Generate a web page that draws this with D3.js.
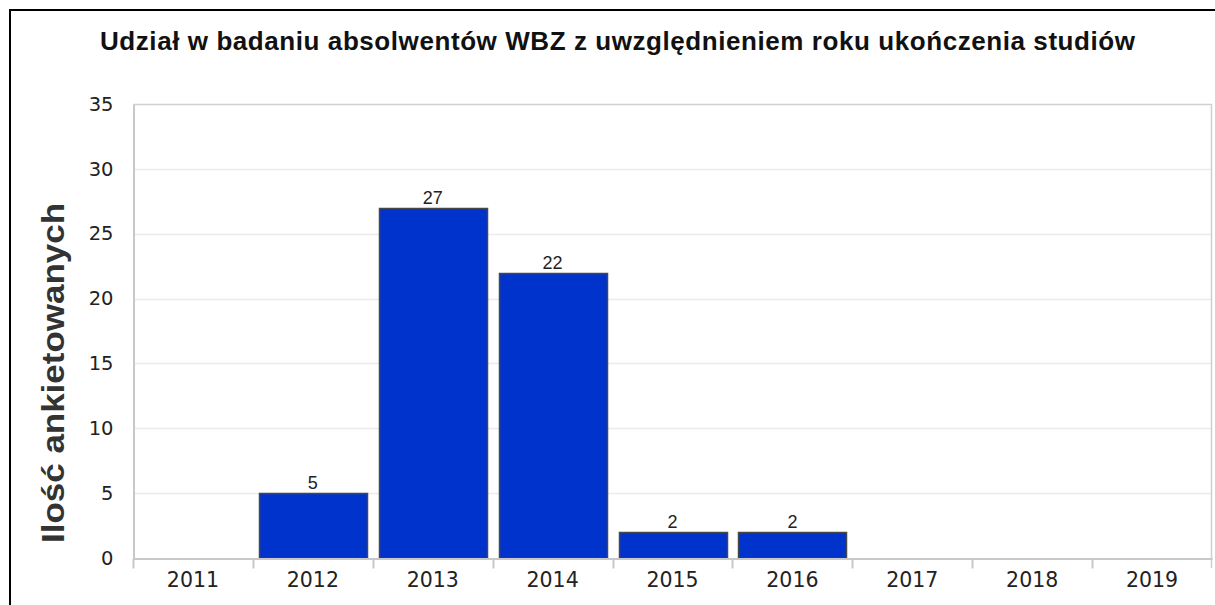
<!DOCTYPE html>
<html>
<head>
<meta charset="utf-8">
<script src="https://cdn.jsdelivr.net/npm/d3@7"></script>
<style>
  body { margin: 0; background: #fff; }
  svg { display: block; }
</style>
</head>
<body>
<svg id="chart" width="1215" height="605"></svg>
<script>
// data
var years = ["2011", "2012", "2013", "2014", "2015", "2016", "2017", "2018", "2019"];
var counts = [0, 5, 27, 22, 2, 2, 0, 0, 0];
var yTicks = [0, 5, 10, 15, 20, 25, 30, 35];
var title = "Udział w badaniu absolwentów WBZ z uwzględnieniem roku ukończenia studiów";
var yTitle = "Ilość ankietowanych";

var svg = d3.select("#chart");
var margin = {left: 133, right: 3, top: 104, bottom: 47};
var W = 1215, H = 605;
var x0 = margin.left, x1 = W - margin.right, y0 = H - margin.bottom, y1 = margin.top;
var tickFont = "DejaVu Sans, Verdana, sans-serif";

// outer frame (runs off the right and bottom edge)
svg.append("path")
	.attr("d", "M10," + H + "V10H" + W)
	.attr("fill", "none")
	.attr("stroke", "#000")
	.attr("stroke-width", 2);

var xb = d3.scaleBand().domain(years).range([x0, x1]);
var y = d3.scaleLinear().domain([0, 35]).range([y0, y1]);

var barData = counts.map(function(v, i) { return {year: years[i], value: v}; })
	.filter(function(d) { return d.value > 0; });

// grid
svg.append("g").selectAll("line")
	.data(yTicks.filter(function(d) { return d > 0 && d < 35; }))
	.join("line")
	.attr("x1", x0).attr("x2", x1)
	.attr("y1", function(d) { return Math.round(y(d)) + 0.5; })
	.attr("y2", function(d) { return Math.round(y(d)) + 0.5; })
	.attr("stroke", "#ebebeb")
	.attr("stroke-width", 1.5);

// plot border top/right
svg.append("path")
	.attr("d", "M" + (x0 + 0.5) + "," + (y1 + 0.5) + "H" + (x1 - 0.5) + "V" + (y0 + 10))
	.attr("fill", "none")
	.attr("stroke", "#d0d0d0")
	.attr("stroke-width", 1.5);

// bars
svg.append("g").selectAll("rect")
	.data(barData)
	.join("rect")
	.attr("x", function(d) { return Math.round(xb(d.year) + 6) + 0.5; })
	.attr("width", function(d) { return Math.round(xb.bandwidth() - 12); })
	.attr("y", function(d) { return Math.round(y(d.value)) + 0.5; })
	.attr("height", function(d) { return y0 - Math.round(y(d.value)); })
	.attr("fill", "#0033cc")
	.attr("stroke", "#474747")
	.attr("stroke-width", 1.5);

// value labels
svg.append("g").selectAll("text")
	.data(barData)
	.join("text")
	.attr("x", function(d) { return xb(d.year) + xb.bandwidth() / 2; })
	.attr("y", function(d) { return y(d.value) - 4; })
	.attr("text-anchor", "middle")
	.attr("font-family", "Liberation Sans, Arial, sans-serif")
	.attr("font-size", 18)
	.attr("fill", "#222")
	.text(function(d) { return d.value; });

// y axis
var yAxis = svg.append("g")
	.attr("transform", "translate(" + (x0 + 0.5) + ",0)")
	.call(d3.axisLeft(y).tickValues(yTicks).tickSize(0).tickPadding(20));
yAxis.select(".domain").attr("stroke", "#c8c8c8").attr("stroke-width", 2);
yAxis.selectAll("text")
	.attr("font-family", tickFont)
	.attr("font-size", 19.5)
	.attr("fill", "#222");

// x axis
var xAxis = svg.append("g")
	.attr("transform", "translate(0," + (y0 + 0.5) + ")")
	.call(d3.axisBottom(xb).tickSize(0).tickPadding(14));
xAxis.select(".domain").attr("stroke", "#c8c8c8").attr("stroke-width", 2);
xAxis.selectAll("text")
	.attr("font-family", tickFont)
	.attr("font-size", 20.5)
	.attr("fill", "#222");
// tick marks between categories
xAxis.append("g").selectAll("line")
	.data(years)
	.join("line")
	.attr("x1", function(d) { return Math.round(xb(d)) + 0.5; })
	.attr("x2", function(d) { return Math.round(xb(d)) + 0.5; })
	.attr("y1", 0).attr("y2", 10)
	.attr("stroke", "#c8c8c8")
	.attr("stroke-width", 2);

// title
svg.append("text")
	.attr("x", 100).attr("y", 50)
	.attr("font-family", "Liberation Sans, Arial, sans-serif")
	.attr("font-weight", "bold")
	.attr("font-size", 26)
	.attr("textLength", 1035)
	.attr("lengthAdjust", "spacing")
	.attr("fill", "#111")
	.text(title);

// y title
svg.append("text")
	.attr("transform", "translate(64,543) rotate(-90)")
	.attr("font-family", "Liberation Sans, Arial, sans-serif")
	.attr("font-weight", "bold")
	.attr("font-size", 32)
	.attr("textLength", 340)
	.attr("lengthAdjust", "spacingAndGlyphs")
	.attr("fill", "#333")
	.text(yTitle);
</script>
</body>
</html>
